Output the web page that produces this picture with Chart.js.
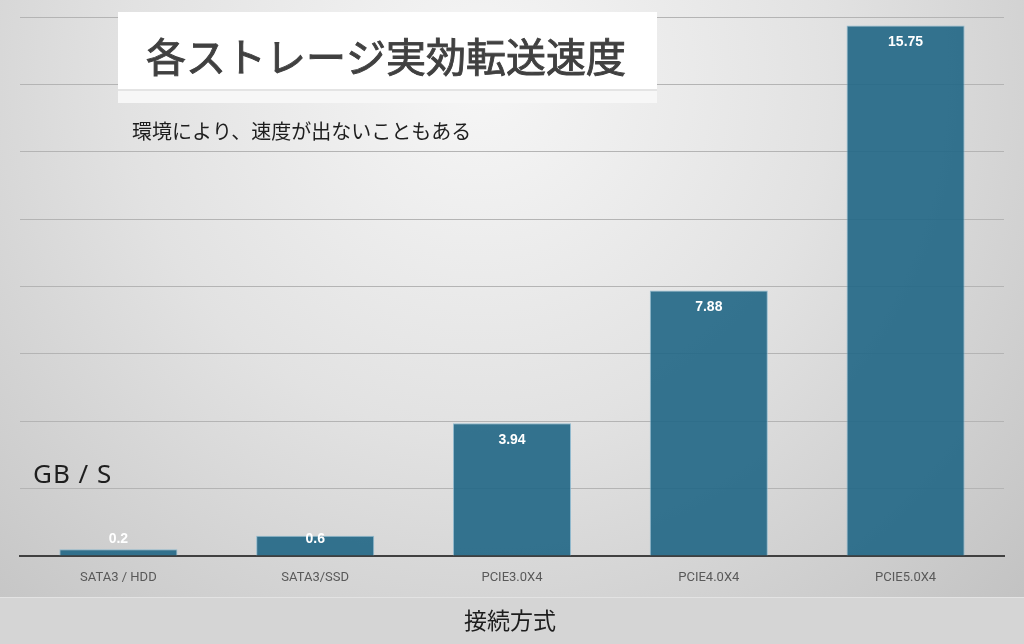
<!DOCTYPE html>
<html lang="ja">
<head>
  <meta charset="UTF-8">
  <title>各ストレージ実効転送速度</title>
  <script src="https://cdn.jsdelivr.net/npm/chart.js"></script>
  <style>
    html, body { margin: 0; padding: 0; background: #d4d4d4; overflow: hidden; }
    canvas { display: block; }
  </style>
</head>
<body>
  <canvas id="chart" width="1024" height="644"></canvas>
  <script>
    const categories = ['SATA3 / HDD', 'SATA3/SSD', 'PCIE3.0X4', 'PCIE4.0X4', 'PCIE5.0X4'];
    const speeds = [0.2, 0.6, 3.94, 7.88, 15.75];
    const speedLabels = ['0.2', '0.6', '3.94', '7.88', '15.75'];

    const title = '各ストレージ実効転送速度';
    const subtitle = '環境により、速度が出ないこともある';
    const unitLabel = 'GB / S';
    const axisTitle = '接続方式';

    const JP = '"Noto Sans CJK JP", "Noto Sans", sans-serif';

    // gradient backdrop + bottom band
    const backdrop = {
      id: 'backdrop',
      beforeDraw(chart) {
        const c = chart.ctx;
        c.save();
        const g = c.createRadialGradient(480, 80, 20, 480, 80, 760);
        g.addColorStop(0, '#f5f5f5');
        g.addColorStop(0.45, '#e2e2e2');
        g.addColorStop(1, '#c2c2c2');
        c.fillStyle = g;
        c.fillRect(0, 0, 1024, 597);
        c.fillStyle = '#d5d5d5';
        c.fillRect(0, 597, 1024, 47);
        c.fillStyle = '#e3e3e3';
        c.fillRect(0, 597, 1024, 1);
        c.restore();
      }
    };

    // value labels inside the bar tops
    const barLabels = {
      id: 'barLabels',
      afterDatasetsDraw(chart) {
        const c = chart.ctx;
        const base = chart.scales.y.getPixelForValue(0);
        c.save();
        c.font = 'bold 14px "Liberation Sans", Arial, sans-serif';
        c.fillStyle = '#ffffff';
        c.textAlign = 'center';
        c.textBaseline = 'middle';
        chart.getDatasetMeta(0).data.forEach((bar, i) => {
          const y = Math.min(bar.y + 17, base - 17);
          c.fillText(speedLabels[i], bar.x, y);
        });
        c.restore();
      }
    };

    // title box and free texts
    const texts = {
      id: 'texts',
      afterDraw(chart) {
        const c = chart.ctx;
        c.save();
        c.fillStyle = '#ffffff';
        c.fillRect(118, 12, 539, 78);
        c.fillStyle = '#f7f7f7';
        c.fillRect(118, 91, 539, 12);
        c.fillStyle = '#e4e4e4';
        c.fillRect(118, 89, 539, 2);

        c.fillStyle = '#404040';
        c.strokeStyle = '#404040';
        c.lineWidth = 0.9;
        c.font = '40px ' + JP;
        c.textAlign = 'center';
        c.textBaseline = 'middle';
        c.fillText(title, 386, 57);
        c.strokeText(title, 386, 57);

        c.fillStyle = '#1e1e1e';
        c.font = '20px ' + JP;
        c.textAlign = 'left';
        c.fillText(subtitle, 132, 131);

        c.font = '26px "Noto Sans", sans-serif';
        c.letterSpacing = '1px';
        c.fillText(unitLabel, 33, 476);
        c.letterSpacing = '0px';

        c.font = '23px ' + JP;
        c.textAlign = 'center';
        c.fillText(axisTitle, 510, 620);
        c.restore();
      }
    };

    new Chart(document.getElementById('chart'), {
      type: 'bar',
      data: {
        labels: categories,
        datasets: [{
          data: speeds,
          backgroundColor: 'rgba(32, 102, 133, 0.9)',
          borderColor: 'rgba(130, 180, 205, 0.8)',
          borderWidth: 1,
          barPercentage: 0.6,
          categoryPercentage: 1.0
        }]
      },
      options: {
        responsive: false,
        animation: false,
        devicePixelRatio: 1,
        layout: { padding: { left: 20, right: 20, top: 17, bottom: 47 } },
        plugins: { legend: { display: false }, tooltip: { enabled: false } },
        scales: {
          x: {
            grid: { display: false, drawTicks: false },
            border: { display: true, color: '#404040', width: 2 },
            ticks: { color: '#595959', font: { family: 'Roboto, sans-serif', size: 13 }, padding: 14 },
            afterFit(s) { s.height = 41; }
          },
          y: {
            min: 0,
            max: 16,
            ticks: { display: false, stepSize: 2 },
            grid: { color: '#b4b4b4', lineWidth: 1, drawTicks: false },
            border: { display: false },
            afterFit(s) { s.width = 0; }
          }
        }
      },
      plugins: [backdrop, barLabels, texts]
    });
  </script>
</body>
</html>
